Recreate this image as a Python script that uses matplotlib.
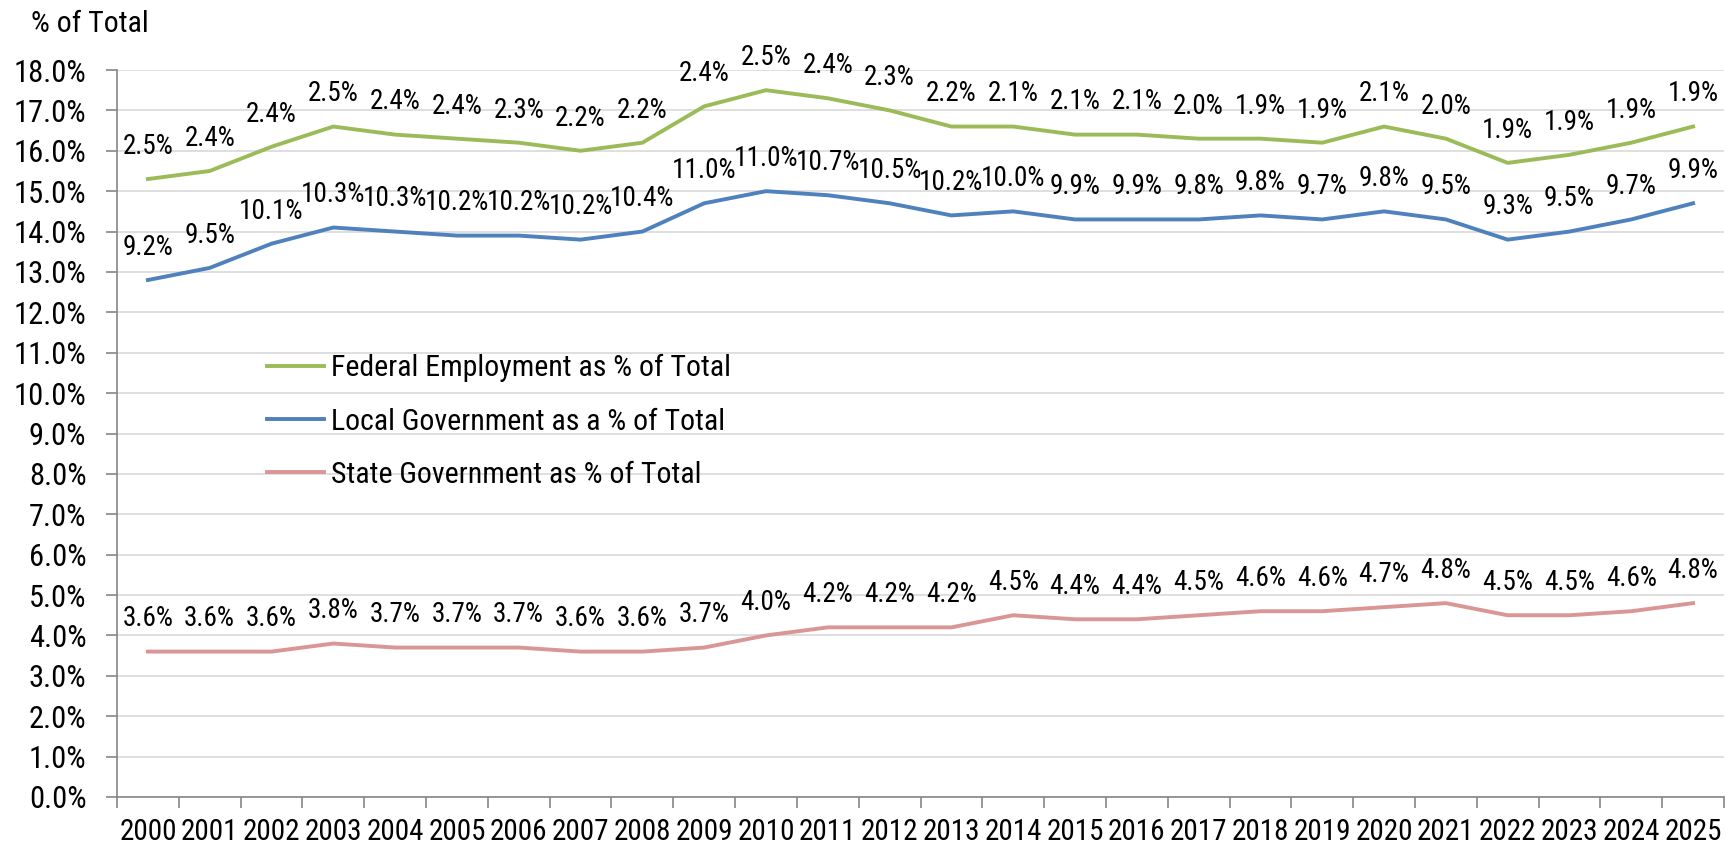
import numpy as np
import matplotlib
matplotlib.use('Agg')
import matplotlib.pyplot as plt
from matplotlib import font_manager
from matplotlib.ticker import FixedLocator, FuncFormatter

# 选一个可用的窄体字体（参考图是 Arial Narrow 之类）
narrow = None
for fam, stretch in [('Liberation Sans Narrow', 'normal'), ('Arial Narrow', 'normal'),
                     ('Roboto Condensed', 'normal'), ('DejaVu Sans', 'condensed'),
                     ('Open Sans Condensed', 'normal')]:
    try:
        path = font_manager.findfont(font_manager.FontProperties(family=fam, stretch=stretch),
                                     fallback_to_default=False)
        if stretch == 'normal' or 'ondensed' in path:
            narrow = (fam, stretch)
            break
    except ValueError:
        pass

if narrow:
    plt.rcParams['font.family'] = [narrow[0], 'DejaVu Sans']
    plt.rcParams['font.stretch'] = narrow[1]
    k = 1.0
else:
    plt.rcParams['font.family'] = ['Liberation Sans', 'DejaVu Sans']
    k = 0.84

# 数据：各级政府就业占总就业的比例（%），折线按堆叠位置绘制
years = list(range(2000, 2026))
state = [3.6, 3.6, 3.6, 3.8, 3.7, 3.7, 3.7, 3.6, 3.6, 3.7, 4.0, 4.2, 4.2,
         4.2, 4.5, 4.4, 4.4, 4.5, 4.6, 4.6, 4.7, 4.8, 4.5, 4.5, 4.6, 4.8]
local = [9.2, 9.5, 10.1, 10.3, 10.3, 10.2, 10.2, 10.2, 10.4, 11.0, 11.0, 10.7, 10.5,
         10.2, 10.0, 9.9, 9.9, 9.8, 9.8, 9.7, 9.8, 9.5, 9.3, 9.5, 9.7, 9.9]
federal = [2.5, 2.4, 2.4, 2.5, 2.4, 2.4, 2.3, 2.2, 2.2, 2.4, 2.5, 2.4, 2.3,
           2.2, 2.1, 2.1, 2.1, 2.0, 1.9, 1.9, 2.1, 2.0, 1.9, 1.9, 1.9, 1.9]

x = np.arange(len(years))
s_cum = np.array(state)
l_cum = s_cum + np.array(local)
f_cum = l_cum + np.array(federal)

fig = plt.figure(figsize=(17.26, 8.44), dpi=100)
ax = fig.add_axes([117 / 1726, 1 - 797 / 844, 1607 / 1726, (797 - 70) / 844])

green = '#9BBB59'
blue = '#4F81BD'
pink = '#D99694'

ax.plot(x, f_cum, color=green, lw=2.8, label='Federal Employment as % of Total')
ax.plot(x, l_cum, color=blue, lw=2.8, label='Local Government as a % of Total')
ax.plot(x, s_cum, color=pink, lw=2.8, label='State Government as % of Total')

# 数据标签显示各自的比例
for vals, cum in [(federal, f_cum), (local, l_cum), (state, s_cum)]:
    for i, v in enumerate(vals):
        ax.annotate('%.1f%%' % v, (x[i], cum[i]), xytext=(0, 23.5),
                    textcoords='offset points', ha='center', va='center', fontsize=19.5 * k)

ax.set_ylim(0, 18)
ax.set_xlim(-0.5, len(years) - 0.5)
ax.set_yticks(np.arange(0, 18.5, 1))
ax.yaxis.set_major_formatter(FuncFormatter(lambda v, p: '%.1f%%' % v))
ax.grid(axis='y', color='#D9D9D9', lw=1.2)
ax.set_axisbelow(True)

ax.xaxis.set_major_locator(FixedLocator(np.arange(-0.5, len(years), 1)))
ax.xaxis.set_minor_locator(FixedLocator(x))
ax.set_xticklabels([])
ax.set_xticklabels([str(y) for y in years], minor=True)
ax.tick_params(axis='x', which='major', length=8, width=1.2, color='#868686')
ax.tick_params(axis='x', which='minor', length=0, pad=15, labelsize=21 * k)
ax.tick_params(axis='y', length=8, width=1.2, color='#868686', pad=14, labelsize=22 * k)

for sp in ['top', 'right']:
    ax.spines[sp].set_visible(False)
for sp in ['left', 'bottom']:
    ax.spines[sp].set_color('#868686')
    ax.spines[sp].set_linewidth(1.2)

fig.text(31 / 1726, 1 - 24 / 844, '% of Total', fontsize=21.5 * k, va='center', ha='left')

ax.legend(loc='upper left', bbox_to_anchor=(267 / 1726, 1 - 354 / 844),
          bbox_transform=fig.transFigure, frameon=False, fontsize=21.5 * k,
          handlelength=1.9, handletextpad=0.25, labelspacing=0.85,
          borderpad=0, borderaxespad=0)

fig.savefig('out.png', dpi=100)
